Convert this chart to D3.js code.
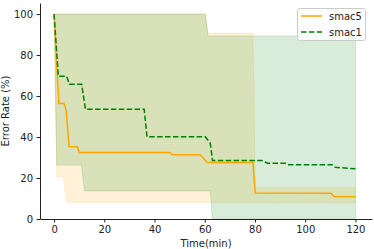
<!DOCTYPE html>
<html>
<head>
<meta charset="utf-8">
<script src="https://cdn.jsdelivr.net/npm/d3@7"></script>
<style>
  body { margin: 0; background: #fff; }
  svg { display: block; font-family: "DejaVu Sans", sans-serif; }
</style>
</head>
<body>
<div id="chart"></div>
<script>
// mean curves
var smac5Time = [0, 1.9, 4.0, 4.8, 6.0, 9.3, 10.0, 46.3, 47.0, 58.2, 59.3, 60.9, 79.2, 80.1, 110.3, 111.4, 120]
var smac5Err  = [100, 56.4, 56.4, 53.0, 35.3, 35.3, 32.5, 32.5, 31.4, 31.4, 29.9, 27.6, 27.6, 12.7, 12.6, 11.0, 10.8]

var smac1Time = [0, 1.7, 5.0, 6.1, 11.0, 12.5, 35.9, 37.0, 60.2, 62.2, 63.1, 82.8, 85.0, 92.1, 93.4, 110.7, 112.0, 120]
var smac1Err  = [100, 69.7, 69.7, 65.7, 65.7, 53.5, 53.5, 40.1, 40.1, 37.0, 28.5, 28.5, 27.2, 27.2, 26.5, 26.5, 25.2, 24.5]

// min / max bands
var smac5BandTime = [0, 1.1, 3.7, 5.1, 60.2, 61.3, 79.2, 80.1, 120]
var smac5Upper    = [100, 100, 100, 100, 100, 90.6, 90.6, 15.2, 15.2]
var smac5Lower    = [100, 20.6, 20.6, 8.1, 8.1, 8.1, 8.1, 8.0, 7.9]

var smac1BandTime = [0, 1.1, 10.9, 12.1, 60.2, 61.3, 62.2, 63.0, 120]
var smac1Upper    = [100, 100, 100, 100, 100, 89.3, 89.3, 89.3, 89.3]
var smac1Lower    = [100, 26.3, 26.3, 13.7, 13.7, 13.7, 13.7, 0.3, 0.3]

var xTicks = [0, 20, 40, 60, 80, 100, 120]
var yTicks = [0, 20, 40, 60, 80, 100]

var width = 374, height = 249
var plotLeft = 40, plotRight = 372, plotTop = 3, plotBottom = 219

var x = d3.scaleLinear().domain([-5.6, 126.6]).range([plotLeft, plotRight])
var y = d3.scaleLinear().domain([0, 105.4]).range([plotBottom, plotTop])

var svg = d3.select('#chart').append('svg')
  .attr('width', width)
  .attr('height', height)

function zip(t, a, b){
  return t.map(function(d, i){ return {t: d, a: a[i], b: b ? b[i] : null} })
}

var area = d3.area()
  .x(function(d){ return x(d.t) })
  .y0(function(d){ return y(d.b) })
  .y1(function(d){ return y(d.a) })

var line = d3.line()
  .x(function(d){ return x(d.t) })
  .y(function(d){ return y(d.a) })

svg.append('path')
  .datum(zip(smac5BandTime, smac5Upper, smac5Lower))
  .attr('d', area)
  .attr('fill', 'orange')
  .attr('fill-opacity', 0.15)
  .attr('stroke', 'orange')
  .attr('stroke-opacity', 0.15)
  .attr('stroke-width', 1)

svg.append('path')
  .datum(zip(smac1BandTime, smac1Upper, smac1Lower))
  .attr('d', area)
  .attr('fill', 'green')
  .attr('fill-opacity', 0.15)
  .attr('stroke', 'green')
  .attr('stroke-opacity', 0.15)
  .attr('stroke-width', 1)

svg.append('path')
  .datum(zip(smac5Time, smac5Err))
  .attr('d', line)
  .attr('fill', 'none')
  .attr('stroke', 'orange')
  .attr('stroke-width', 1.5)

svg.append('path')
  .datum(zip(smac1Time, smac1Err))
  .attr('d', line)
  .attr('fill', 'none')
  .attr('stroke', 'green')
  .attr('stroke-width', 1.5)
  .attr('stroke-dasharray', '5.5,2.4')

// axes
svg.append('g')
  .attr('transform', 'translate(0,' + plotBottom + ')')
  .call(d3.axisBottom(x).tickValues(xTicks).tickSize(3.5).tickPadding(3.5).tickSizeOuter(0))
svg.append('g')
  .attr('transform', 'translate(' + plotLeft + ',0)')
  .call(d3.axisLeft(y).tickValues(yTicks).tickSize(3.5).tickPadding(3.5).tickSizeOuter(0))

svg.selectAll('.domain').attr('stroke', '#222').attr('stroke-width', 1)
svg.selectAll('.tick line').attr('stroke', '#222')
svg.selectAll('.tick text')
  .attr('fill', '#222')
  .style('font-size', '10px')
  .style('font-family', '"DejaVu Sans", sans-serif')

svg.append('text')
  .attr('x', (plotLeft + plotRight) / 2)
  .attr('y', 247)
  .attr('text-anchor', 'middle')
  .attr('font-size', 10)
  .attr('fill', '#222')
  .text('Time(min)')

svg.append('text')
  .attr('transform', 'translate(9,' + (plotTop + plotBottom) / 2 + ') rotate(-90)')
  .attr('text-anchor', 'middle')
  .attr('font-size', 10)
  .attr('fill', '#222')
  .text('Error Rate (%)')

// legend
var legend = svg.append('g').attr('transform', 'translate(297,8)')
legend.append('rect')
  .attr('x', 0.5).attr('y', 0.5)
  .attr('width', 68).attr('height', 32)
  .attr('rx', 2)
  .attr('fill', '#fff').attr('fill-opacity', 0.8)
  .attr('stroke', '#ccc')

var entries = [
  {name: 'smac5', color: 'orange', dash: null},
  {name: 'smac1', color: 'green', dash: '5.5,2.4'}
]
entries.forEach(function(e, i){
  var yy = 8 + i * 16
  legend.append('line')
    .attr('x1', 4).attr('x2', 25)
    .attr('y1', yy).attr('y2', yy)
    .attr('stroke', e.color)
    .attr('stroke-width', 1.5)
    .attr('stroke-dasharray', e.dash)
  legend.append('text')
    .attr('x', 32).attr('y', yy + 3.5)
    .attr('font-size', 10)
    .attr('fill', '#222')
    .text(e.name)
})
</script>
</body>
</html>
